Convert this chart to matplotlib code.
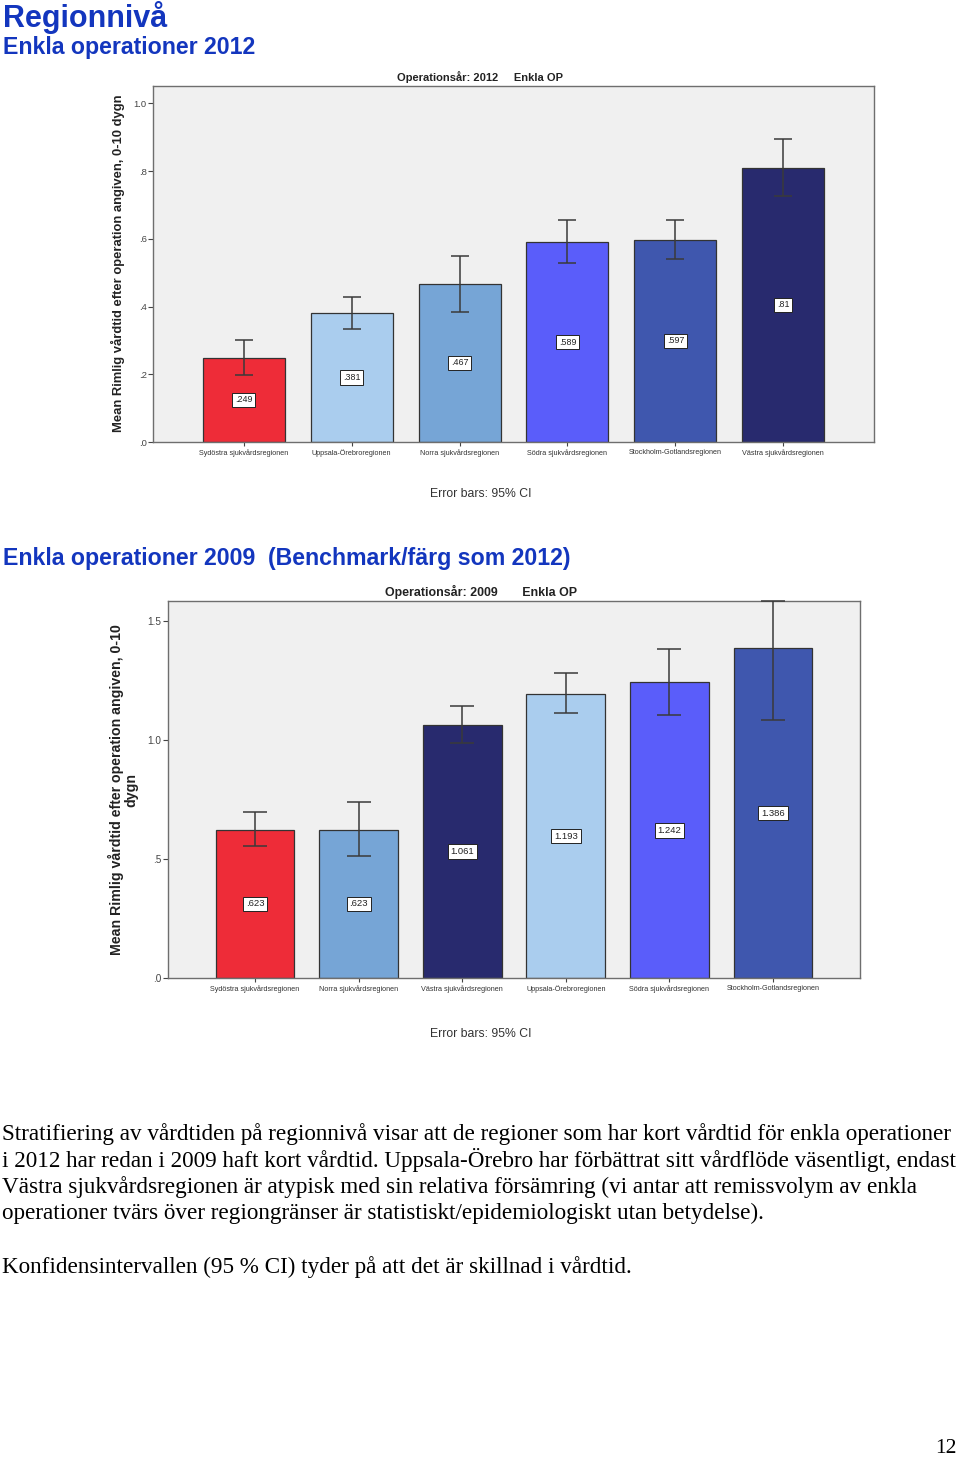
import matplotlib
matplotlib.use("Agg")
import matplotlib.pyplot as plt
from matplotlib.ticker import FuncFormatter

# Data 2012
regions_2012 = ["Sydöstra sjukvårdsregionen", "Uppsala-Örebroregionen", "Norra sjukvårdsregionen",
                "Södra sjukvårdsregionen", "Stockholm-Gotlandsregionen", "Västra sjukvårdsregionen"]
means_2012 = [0.249, 0.381, 0.467, 0.589, 0.597, 0.81]
ci_low_2012 = [0.198, 0.334, 0.385, 0.527, 0.541, 0.725]
ci_high_2012 = [0.302, 0.429, 0.550, 0.654, 0.654, 0.896]

# Data 2009
regions_2009 = ["Sydöstra sjukvårdsregionen", "Norra sjukvårdsregionen", "Västra sjukvårdsregionen",
                "Uppsala-Örebroregionen", "Södra sjukvårdsregionen", "Stockholm-Gotlandsregionen"]
means_2009 = [0.623, 0.623, 1.061, 1.193, 1.242, 1.386]
ci_low_2009 = [0.555, 0.513, 0.987, 1.113, 1.106, 1.084]
ci_high_2009 = [0.697, 0.739, 1.143, 1.282, 1.384, 1.583]

region_colors = {
    "Sydöstra sjukvårdsregionen": "#EE2C38",
    "Uppsala-Örebroregionen": "#AACDEE",
    "Norra sjukvårdsregionen": "#76A5D6",
    "Södra sjukvårdsregionen": "#5A5DFA",
    "Stockholm-Gotlandsregionen": "#3F57AE",
    "Västra sjukvårdsregionen": "#282A6E",
}

HEAD = "#1336BE"
W, H = 960, 1457


def fx(px):
    return px / W


def fy(py):
    return 1 - py / H


def short(v):
    s = f"{v:g}"
    return s[1:] if s.startswith("0") else s


def draw_chart(ax, regions, means, lo, hi, ymax, yticks, capsize, fs_tick, fs_lab):
    x = list(range(len(regions)))
    cols = [region_colors[r] for r in regions]
    ax.set_facecolor("#F0F0F0")
    ax.bar(x, means, width=0.76, color=cols, edgecolor="#333333", linewidth=0.9, zorder=2)
    err = [[m - l for m, l in zip(means, lo)], [h - m for m, h in zip(means, hi)]]
    ax.errorbar(x, means, yerr=err, fmt="none", ecolor="#3a3a3a", elinewidth=1.1,
                capsize=capsize, capthick=1.1, zorder=3, clip_on=False)
    for xi, m in zip(x, means):
        ax.text(xi, m / 2, short(m), ha="center", va="center", fontsize=fs_lab,
                color="#222222", zorder=4,
                bbox=dict(boxstyle="square,pad=0.3", fc="white", ec="#222222", lw=0.7))
    ax.set_xlim(-0.84, len(regions) - 1 + 0.84)
    ax.set_ylim(0, ymax)
    ax.set_yticks(yticks)
    ax.yaxis.set_major_formatter(FuncFormatter(lambda v, p: f"{v:.1f}".lstrip("0")))
    ax.set_xticks(x)
    ax.set_xticklabels(regions, fontsize=5.2, color="#333333")
    ax.tick_params(axis="y", labelsize=fs_tick, labelcolor="#444444", length=3.5,
                   width=0.8, color="#444444", pad=1)
    ax.tick_params(axis="x", length=3, width=0.8, color="#444444", pad=2)
    for s in ax.spines.values():
        s.set_color("#6e6e6e")
        s.set_linewidth(1.0)


plt.rcParams["font.family"] = ["Liberation Sans", "DejaVu Sans"]
fig = plt.figure(figsize=(W / 100, H / 100), dpi=100)
fig.patch.set_facecolor("white")

# headings
fig.text(fx(3), fy(27), "Regionnivå", fontsize=22, fontweight="bold", color=HEAD, va="baseline")
fig.text(fx(3), fy(54), "Enkla operationer 2012", fontsize=16.7, fontweight="bold", color=HEAD,
         va="baseline")
fig.text(fx(3), fy(565), "Enkla operationer 2009  (Benchmark/färg som 2012)", fontsize=16.7,
         fontweight="bold", color=HEAD, va="baseline")

# chart 2012
ax1 = fig.add_axes([fx(153), fy(442), fx(874) - fx(153), (442 - 86) / H])
draw_chart(ax1, regions_2012, means_2012, ci_low_2012, ci_high_2012, 1.051,
           [0, 0.2, 0.4, 0.6, 0.8, 1.0], 6.5, 6.8, 6.4)
fig.text(fx(480), fy(77), "Operationsår: 2012     Enkla OP", fontsize=8, fontweight="bold",
         color="#222222", ha="center", va="center")
fig.text(fx(118), fy(263), "Mean Rimlig vårdtid efter operation angiven, 0-10 dygn", fontsize=9.4,
         fontweight="bold", color="#222222", rotation=90, ha="center", va="center")
fig.text(fx(481), fy(494), "Error bars: 95% CI", fontsize=8.8, color="#333333",
         ha="center", va="center")

# chart 2009
ax2 = fig.add_axes([fx(168), fy(978), fx(860) - fx(168), (978 - 601) / H])
draw_chart(ax2, regions_2009, means_2009, ci_low_2009, ci_high_2009, 1.584,
           [0, 0.5, 1.0, 1.5], 8.5, 7.2, 6.8)
fig.text(fx(481), fy(592), "Operationsår: 2009       Enkla OP", fontsize=8.9, fontweight="bold",
         color="#222222", ha="center", va="center")
fig.text(fx(123), fy(790), "Mean Rimlig vårdtid efter operation angiven, 0-10\ndygn", fontsize=10.2,
         fontweight="bold", color="#222222", rotation=90, ha="center", va="center",
         multialignment="center", linespacing=1.0)
fig.text(fx(481), fy(1034), "Error bars: 95% CI", fontsize=8.8, color="#333333",
         ha="center", va="center")

# body text
body = [
    "Stratifiering av vårdtiden på regionnivå visar att de regioner som har kort vårdtid för enkla operationer",
    "i 2012 har redan i 2009 haft kort vårdtid. Uppsala-Örebro har förbättrat sitt vårdflöde väsentligt, endast",
    "Västra sjukvårdsregionen är atypisk med sin relativa försämring (vi antar att remissvolym av enkla",
    "operationer tvärs över regiongränser är statistiskt/epidemiologiskt utan betydelse).",
]
for i, line in enumerate(body):
    fig.text(fx(2), fy(1140 + i * 26.5), line, fontsize=16.7, family="Liberation Serif",
             color="black", va="baseline")
fig.text(fx(2), fy(1272.5), "Konfidensintervallen (95 % CI) tyder på att det är skillnad i vårdtid.",
         fontsize=16.7, family="Liberation Serif", color="black", va="baseline")
fig.text(fx(957), fy(1453), "12", fontsize=15.5, family="Liberation Serif", color="black",
         ha="right", va="baseline")

fig.savefig("out.png", dpi=100)
